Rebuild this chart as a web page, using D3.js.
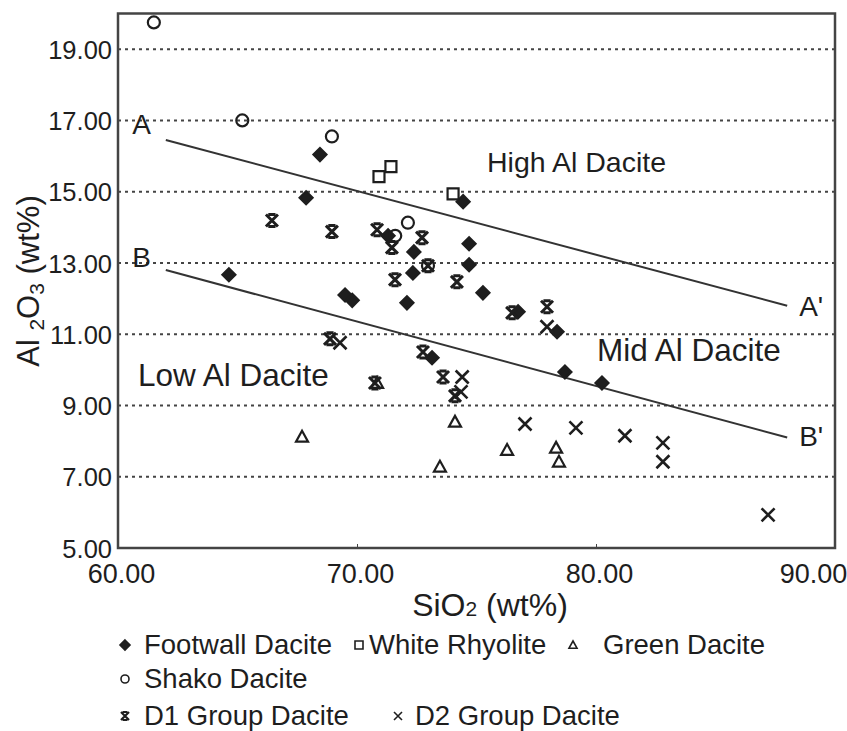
<!DOCTYPE html>
<html>
<head>
<meta charset="utf-8">
<script src="https://cdn.jsdelivr.net/npm/d3@7"></script>
<style>
  body { margin: 0; background: #fff; }
  svg { font-family: "Liberation Sans", Arial, Helvetica, sans-serif; }
</style>
</head>
<body>
<div id="chart"></div>
<script>
// values (SiO2, Al2O3 in wt%)
const footwall = [[68.45,16.04],[67.87,14.83],[64.64,12.67],[69.5,12.1],[69.8,11.95],[72.09,11.88],
  [74.44,14.72],[74.69,13.54],[74.69,12.95],[75.27,12.16],[72.38,13.31],[72.34,12.72],[71.3,13.76],
  [76.74,11.63],[78.37,11.07],[78.7,9.94],[80.25,9.63],[73.14,10.34]];
const whiteRhyolite = [[70.92,15.42],[71.42,15.7],[74.02,14.94]];
const greenDacite = [[67.7,8.12],[73.47,7.28],[74.1,8.54],[76.28,7.75],[78.33,7.81],[78.45,7.42],[70.84,9.63]];
const shako = [[61.5,19.75],[65.2,17.0],[68.95,16.55],[72.13,14.13],[71.6,13.76],[72.97,12.92]];
const d1Group = [[66.44,14.19],[68.95,13.88],[70.84,13.93],[71.46,13.43],[72.72,13.71],[71.59,12.53],
  [74.18,12.47],[72.97,12.92],[77.95,11.77],[76.49,11.6],[68.87,10.87],[70.75,9.63],[72.76,10.5],
  [73.6,9.8],[74.1,9.27]];
const d2Group = [[69.29,10.76],[77.03,8.48],[79.16,8.37],[81.21,8.15],[82.8,7.95],[82.8,7.42],
  [87.2,5.93],[77.95,11.21],[74.4,9.8],[74.35,9.38]];

const lineA = [[62,16.45],[88,11.8]];
const lineB = [[62,12.8],[88,8.1]];

const xTicks = [60, 70, 80, 90];
const yTicks = [5, 7, 9, 11, 13, 15, 17, 19];

const W = 847, H = 731;
const ink = "#1e1e1e";

const x = d3.scaleLinear().domain([60, 90]).range([118, 835]);
const y = d3.scaleLinear().domain([5, 20]).range([548, 13.5]);

const svg = d3.select("#chart").append("svg")
  .attr("width", W).attr("height", H);

// dotted grid lines
svg.append("g")
  .selectAll("line")
  .data(yTicks.filter(d => d > 5))
  .enter().append("line")
  .attr("x1", x(60)).attr("x2", x(90))
  .attr("y1", d => y(d)).attr("y2", d => y(d))
  .attr("stroke", "#444").attr("stroke-width", 2)
  .attr("stroke-dasharray", "3,4");

// axes
const xAxis = d3.axisBottom(x).tickValues(xTicks).tickFormat(d3.format(".2f")).tickSize(-4).tickPadding(16);
const yAxis = d3.axisLeft(y).tickValues(yTicks).tickFormat(d3.format(".2f")).tickSize(0).tickPadding(6);

const gx = svg.append("g").attr("transform", `translate(0,${y(5)})`).call(xAxis);
const gy = svg.append("g").attr("transform", `translate(${x(60)},0)`).call(yAxis);

[gx, gy].forEach(g => {
  g.select(".domain").remove();
  g.selectAll("text").attr("fill", ink).attr("font-family", "Liberation Sans, Arial, sans-serif");
  g.selectAll("line").attr("stroke", "#444");
});
gx.selectAll("text").attr("font-size", 27).attr("dx", 3);
gy.selectAll("text").attr("font-size", 25.5).attr("dy", "0.36em");
// last x label is pulled in so it stays inside the figure
gx.selectAll("text").filter(d => d === 90).attr("dx", -22);

// frame
svg.append("rect")
  .attr("x", x(60)).attr("y", y(20))
  .attr("width", x(90) - x(60)).attr("height", y(5) - y(20))
  .attr("fill", "none").attr("stroke", "#444").attr("stroke-width", 2.5);

// boundary lines
const line = d3.line().x(d => x(d[0])).y(d => y(d[1]));
[lineA, lineB].forEach(l => {
  svg.append("path").attr("d", line(l))
    .attr("fill", "none").attr("stroke", "#333").attr("stroke-width", 2);
});

// line labels and field names
const lab = (px, py, t, size) => svg.append("text")
  .attr("x", px).attr("y", py).attr("font-size", size).attr("fill", ink).text(t);
lab(x(60.6), 134, "A", 28);
lab(x(60.6), 267, "B", 28);
lab(x(88.5), 316, "A'", 28);
lab(x(88.5), 446, "B'", 28);
lab(487, 172, "High Al Dacite", 28.5);
lab(597, 361, "Mid Al Dacite", 31.5);
lab(138, 386, "Low Al Dacite", 31.5);

// marker shapes
const sym = {
  diamond: s => `M0,${-s}L${s},0L0,${s}L${-s},0Z`,
  square: s => `M${-s},${-s}H${s}V${s}H${-s}Z`,
  triangle: s => `M0,${-s}L${s},${s * 0.8}H${-s}Z`,
  circle: s => `M${s},0A${s},${s} 0 1,1 ${-s},0A${s},${s} 0 1,1 ${s},0Z`,
  d1: s => `M${-s},${-s}L${s},${s}M${s},${-s}L${-s},${s}M${-s * 0.6},${-s}H${s * 0.6}M${-s * 0.6},${s}H${s * 0.6}`,
  d2: s => `M${-s},${-s}L${s},${s}M${s},${-s}L${-s},${s}`
};

const series = [
  { name: "Footwall Dacite", data: footwall, shape: "diamond", size: 6.5, fill: ink },
  { name: "White Rhyolite", data: whiteRhyolite, shape: "square", size: 5.5, fill: "#fff" },
  { name: "Green Dacite", data: greenDacite, shape: "triangle", size: 6, fill: "#fff" },
  { name: "Shako Dacite", data: shako, shape: "circle", size: 6, fill: "none" },
  { name: "D1 Group Dacite", data: d1Group, shape: "d1", size: 6, fill: "none" },
  { name: "D2 Group Dacite", data: d2Group, shape: "d2", size: 6.5, fill: "none" }
];

series.forEach(s => {
  svg.append("g").selectAll("path")
    .data(s.data)
    .enter().append("path")
    .attr("transform", d => `translate(${x(d[0])},${y(d[1])})`)
    .attr("d", sym[s.shape](s.size))
    .attr("fill", s.fill)
    .attr("stroke", ink)
    .attr("stroke-width", s.shape === "d1" ? 3 : s.shape === "d2" ? 2.6 : 2.2);
});

// axis titles
const xt = svg.append("text").attr("x", 490).attr("y", 616)
  .attr("text-anchor", "middle").attr("font-size", 32).attr("fill", ink);
xt.append("tspan").text("SiO");
xt.append("tspan").attr("font-size", 21).text("2");
xt.append("tspan").text(" (wt%)");

const yt = svg.append("text")
  .attr("transform", "translate(39,281) rotate(-90)")
  .attr("text-anchor", "middle").attr("font-size", 31).attr("fill", ink);
yt.append("tspan").text("Al ");
yt.append("tspan").attr("font-size", 21).attr("dy", 5).text("2");
yt.append("tspan").attr("dy", -5).text("O");
yt.append("tspan").attr("font-size", 21).attr("dy", 5).text("3");
yt.append("tspan").attr("dy", -5).text(" (wt%)");

// legend
const legendRows = [
  [["Footwall Dacite", 125, 144, "diamond"], ["White Rhyolite", 359, 369, "square"], ["Green Dacite", 573, 603, "triangle"]],
  [["Shako Dacite", 125, 144, "circle"]],
  [["D1 Group Dacite", 125, 144, "d1"], ["D2 Group Dacite", 398, 415, "d2"]]
];
const rowY = [654, 688, 725];
legendRows.forEach((row, i) => {
  row.forEach(([name, lx, tx, shape]) => {
    const g = svg.append("g");
    g.append("path")
      .attr("transform", `translate(${lx},${rowY[i] - 9})`)
      .attr("d", sym[shape](shape === "diamond" ? 5 : 4))
      .attr("fill", shape === "diamond" ? ink : "none")
      .attr("stroke", ink).attr("stroke-width", shape === "d1" ? 2.2 : 1.6);
    g.append("text").attr("x", tx).attr("y", rowY[i])
      .attr("font-size", 27.5).attr("fill", ink).text(name);
  });
});
</script>
</body>
</html>
